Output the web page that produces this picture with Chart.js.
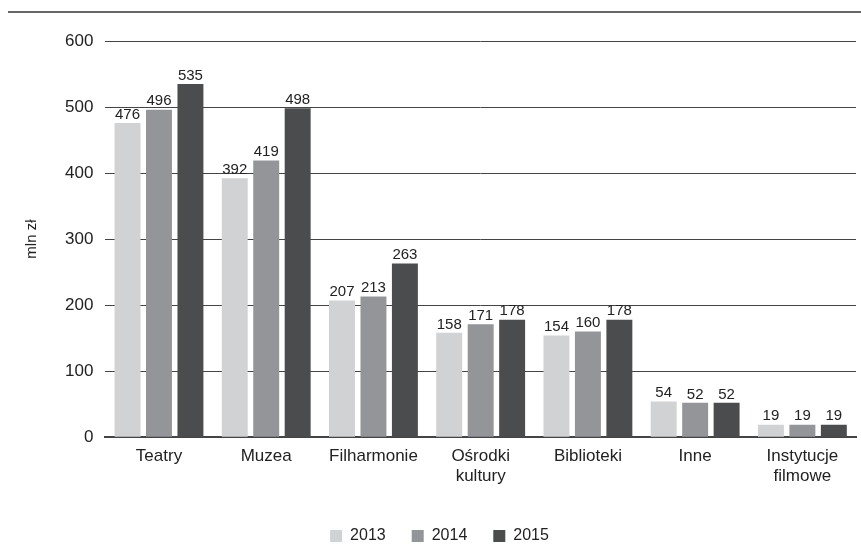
<!DOCTYPE html>
<html>
<head>
<meta charset="utf-8">
<script src="https://cdn.jsdelivr.net/npm/chart.js@4"></script>
<style>
    html, body { margin: 0; padding: 0; background: #fff; }
    #wrap { width: 861px; height: 557px; position: relative; }
</style>
</head>
<body>
<div id="wrap"><canvas id="chart"></canvas></div>
<script>
const categories = ['Teatry', 'Muzea', 'Filharmonie', ['Ośrodki', 'kultury'], 'Biblioteki', 'Inne', ['Instytucje', 'filmowe']];
const years = ['2013', '2014', '2015'];
const values2013 = [476, 392, 207, 158, 154, 54, 19];
const values2014 = [496, 419, 213, 171, 160, 52, 19];
const values2015 = [535, 498, 263, 178, 178, 52, 19];
const yTicks = [0, 100, 200, 300, 400, 500, 600];

const colors = ['#d1d2d4', '#939598', '#4b4c4e'];
const font = 'Liberation Sans, Arial, sans-serif';

// value labels above bars + rule at the top of the figure
const extras = {
    id: 'extras',
    afterDatasetsDraw(chart) {
        const ctx = chart.ctx;
        ctx.save();
        ctx.font = '15px ' + font;
        ctx.fillStyle = '#222';
        ctx.textAlign = 'center';
        ctx.textBaseline = 'bottom';
        chart.data.datasets.forEach((ds, i) => {
            chart.getDatasetMeta(i).data.forEach((bar, j) => {
                ctx.fillText(ds.data[j], bar.x, bar.y - 1);
            });
        });
        ctx.strokeStyle = '#333';
        ctx.lineWidth = 1.5;
        ctx.beginPath();
        ctx.moveTo(8, 12);
        ctx.lineTo(861, 12);
        ctx.stroke();
        ctx.restore();
    }
};

new Chart(document.getElementById('chart').getContext('2d'), {
    type: 'bar',
    data: {
        labels: categories,
        datasets: [
            { label: years[0], data: values2013, backgroundColor: colors[0] },
            { label: years[1], data: values2014, backgroundColor: colors[1] },
            { label: years[2], data: values2015, backgroundColor: colors[2] }
        ]
    },
    options: {
        responsive: true,
        maintainAspectRatio: false,
        animation: false,
        layout: { padding: { top: 41, right: 5, left: 23, bottom: 3 } },
        datasets: { bar: { categoryPercentage: 0.88, barPercentage: 0.825 } },
        plugins: {
            legend: {
                position: 'bottom',
                labels: {
                    boxWidth: 12, boxHeight: 12, padding: 26,
                    color: '#222', font: { family: font, size: 16 }
                }
            },
            tooltip: { enabled: false }
        },
        scales: {
            x: {
                grid: { display: false },
                border: { color: '#444', width: 2 },
                ticks: { color: '#222', font: { family: font, size: 17 }, padding: 1, maxRotation: 0 },
                title: { display: true, text: ' ', font: { size: 10 }, padding: 1 }
            },
            y: {
                min: 0, max: 600,
                afterBuildTicks: axis => { axis.ticks = yTicks.map(v => ({ value: v })); },
                grid: { color: '#444', lineWidth: 1, drawTicks: false },
                border: { display: false },
                ticks: { color: '#222', font: { family: font, size: 17 }, padding: 12 },
                title: { display: true, text: 'mln zł', color: '#222', font: { family: font, size: 15 }, padding: { top: 0, bottom: 12 } }
            }
        }
    },
    plugins: [extras]
});
</script>
</body>
</html>
